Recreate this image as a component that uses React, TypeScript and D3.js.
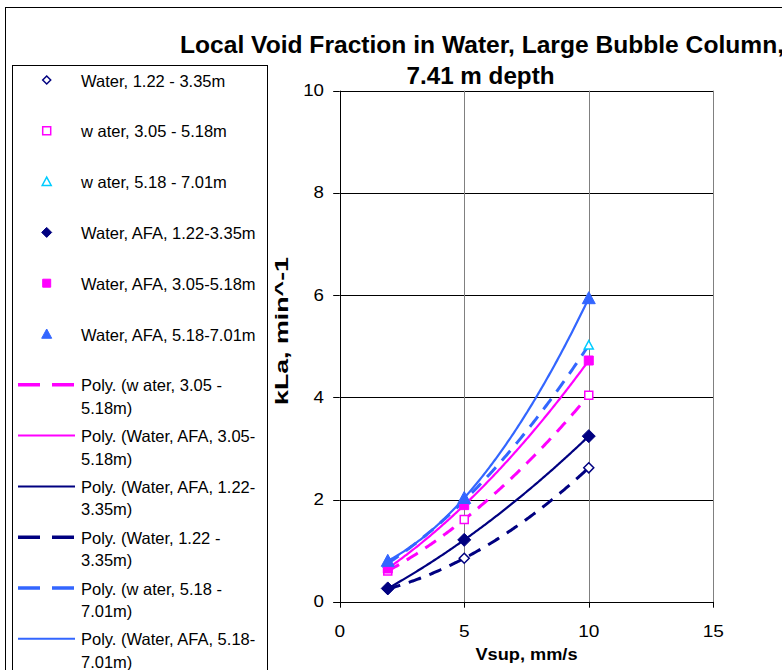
import React from "react";
import * as d3 from "d3";

const vsup = [1.93, 5, 10];
const water1 = [0.25, 0.85, 2.62];
const water2 = [0.6, 1.61, 4.04];
const water3 = [0.75, 1.98, 5.02];
const afa1 = [0.26, 1.21, 3.24];
const afa2 = [0.65, 1.89, 4.72];
const afa3 = [0.8, 2.03, 5.94];

const xTicks = [0, 5, 10, 15];
const yTicks = [0, 2, 4, 6, 8, 10];

const pointLabels = [
  "Water, 1.22 - 3.35m",
  "w ater, 3.05 - 5.18m",
  "w ater, 5.18 - 7.01m",
  "Water, AFA, 1.22-3.35m",
  "Water, AFA, 3.05-5.18m",
  "Water, AFA, 5.18-7.01m",
];
const trendLabels = [
  ["Poly. (w ater, 3.05 -", "5.18m)"],
  ["Poly. (Water, AFA, 3.05-", "5.18m)"],
  ["Poly. (Water, AFA, 1.22-", "3.35m)"],
  ["Poly. (Water, 1.22 -", "3.35m)"],
  ["Poly. (w ater, 5.18 -", "7.01m)"],
  ["Poly. (Water, AFA, 5.18-", "7.01m)"],
];

const NAVY = "#000080";
const MAG = "#FF00FF";
const CYAN = "#00CCFF";
const BLUE = "#3366FF";

type Shape = "diamond" | "square" | "triangle";
const series = [
  { values: water1, shape: "diamond" as Shape, filled: false, color: NAVY, size: 10, lsize: 8, trendColor: NAVY, dashed: true },
  { values: water2, shape: "square" as Shape, filled: false, color: MAG, size: 8, lsize: 8, trendColor: MAG, dashed: true },
  { values: water3, shape: "triangle" as Shape, filled: false, color: CYAN, size: 9, lsize: 9, trendColor: BLUE, dashed: true },
  { values: afa1, shape: "diamond" as Shape, filled: true, color: NAVY, size: 13, lsize: 10, trendColor: NAVY, dashed: false },
  { values: afa2, shape: "square" as Shape, filled: true, color: MAG, size: 9, lsize: 8, trendColor: MAG, dashed: false },
  { values: afa3, shape: "triangle" as Shape, filled: true, color: BLUE, size: 13, lsize: 10, trendColor: BLUE, dashed: false },
];
// legend order of trendlines -> series index
const trendOrder = [1, 4, 3, 0, 2, 5];

function markerPath(shape: Shape, s: number): string {
  const p = d3.path();
  const h = s / 2;
  if (shape === "diamond") {
    p.moveTo(0, -h); p.lineTo(h, 0); p.lineTo(0, h); p.lineTo(-h, 0); p.closePath();
  } else if (shape === "square") {
    p.rect(-h, -h, s, s);
  } else {
    p.moveTo(0, -h); p.lineTo(h, h * 0.85); p.lineTo(-h, h * 0.85); p.closePath();
  }
  return p.toString();
}

function quadFit(xs: number[], ys: number[]) {
  return (x: number) => {
    let sum = 0;
    for (let i = 0; i < 3; i++) {
      let term = ys[i];
      for (let j = 0; j < 3; j++) if (j !== i) term *= (x - xs[j]) / (xs[i] - xs[j]);
      sum += term;
    }
    return sum;
  };
}

export default function App() {
  const x = d3.scaleLinear().domain([0, 15]).range([339.7, 713.3]);
  const y = d3.scaleLinear().domain([0, 10]).range([601.7, 90.7]);
  const line = d3.line<[number, number]>().x((d) => x(d[0])).y((d) => y(d[1]));
  const font = "Arial, 'Liberation Sans', sans-serif";

  const trendPath = (vals: number[]) => {
    const f = quadFit(vsup, vals);
    const pts: [number, number][] = d3.range(vsup[0], vsup[2] + 0.001, 0.05).map((v) => [v, f(v)]);
    return line(pts) || "";
  };

  const legStep = 50.8;
  return (
    <svg width={782} height={670} style={{ position: "absolute", left: 0, top: 0, background: "#fff" }} fontFamily={font}>
      <rect x={0} y={0} width={782} height={670} fill="#fff" />
      <rect x={5.5} y={7.5} width={800} height={700} fill="none" stroke="#000" strokeWidth={1} />
      {/* title */}
      <text x={180} y={53} fontSize={24} fontWeight="bold" textLength={604} lengthAdjust="spacingAndGlyphs">
        Local Void Fraction in Water, Large Bubble Column,
      </text>
      <text x={480.5} y={84} fontSize={24} fontWeight="bold" textAnchor="middle" textLength={148} lengthAdjust="spacingAndGlyphs">
        7.41 m depth
      </text>
      {/* gridlines */}
      {yTicks.filter((t) => t > 0).map((t) => (
        <line key={"gy" + t} x1={x(0)} x2={x(15)} y1={Math.round(y(t)) + 0.5} y2={Math.round(y(t)) + 0.5} stroke="#000" strokeWidth={1} />
      ))}
      {xTicks.filter((t) => t > 0).map((t) => (
        <line key={"gx" + t} x1={Math.round(x(t)) + 0.5} x2={Math.round(x(t)) + 0.5} y1={y(10)} y2={y(0)} stroke="#808080" strokeWidth={1} />
      ))}
      {/* axes */}
      <line x1={Math.round(x(0)) + 0.5} x2={Math.round(x(0)) + 0.5} y1={y(10)} y2={y(0) + 1} stroke="#000" />
      <line x1={x(0) - 6} x2={x(15)} y1={Math.round(y(0)) + 0.5} y2={Math.round(y(0)) + 0.5} stroke="#000" />
      {yTicks.map((t) => (
        <g key={"yt" + t}>
          <line x1={x(0) - 6.5} x2={x(0)} y1={Math.round(y(t)) + 0.5} y2={Math.round(y(t)) + 0.5} stroke="#000" />
          <text x={324} y={y(t) + 5.5} fontSize={16} textAnchor="end" textLength={String(t).length * 10.4} lengthAdjust="spacingAndGlyphs">
            {t}
          </text>
        </g>
      ))}
      {xTicks.map((t) => (
        <g key={"xt" + t}>
          <line x1={Math.round(x(t)) + 0.5} x2={Math.round(x(t)) + 0.5} y1={y(0)} y2={y(0) + 6} stroke="#000" />
          <text x={x(t)} y={636.5} fontSize={16} textAnchor="middle" textLength={String(t).length * 10.6} lengthAdjust="spacingAndGlyphs">
            {t}
          </text>
        </g>
      ))}
      <text x={x(7.5)} y={660} fontSize={16} fontWeight="bold" textAnchor="middle" textLength={102} lengthAdjust="spacingAndGlyphs">
        Vsup, mm/s
      </text>
      <text transform="translate(288,331) rotate(-90)" fontSize={18} fontWeight="bold" textAnchor="middle" textLength={148} lengthAdjust="spacingAndGlyphs">
        kLa, min^-1
      </text>
      {/* trendlines */}
      {series.map((s, i) => (
        <path key={"tr" + i} d={trendPath(s.values)} fill="none" stroke={s.trendColor}
          strokeWidth={s.dashed ? 3 : 2.2} strokeDasharray={s.dashed ? "13 9" : undefined} />
      ))}
      {/* markers */}
      {series.map((s, i) =>
        s.values.map((v, k) => (
          <path key={"m" + i + "-" + k} d={markerPath(s.shape, s.size)} transform={`translate(${x(vsup[k])},${y(v)})`}
            fill={s.filled ? s.color : "#fff"} stroke={s.color} strokeWidth={s.filled ? 1 : 1.5} />
        ))
      )}
      {/* legend */}
      <rect x={12.5} y={65.5} width={255} height={700} fill="#fff" stroke="#000" strokeWidth={1} />
      {series.map((s, i) => {
        const cy = 80 + i * legStep;
        return (
          <g key={"lg" + i}>
            <path d={markerPath(s.shape, s.lsize)} transform={`translate(46.7,${cy})`}
              fill={s.filled ? s.color : "#fff"} stroke={s.color} strokeWidth={s.filled ? 1 : 1.5} />
            <text x={81} y={cy + 6.5} fontSize={16.5}>{pointLabels[i]}</text>
          </g>
        );
      })}
      {trendOrder.map((si, j) => {
        const s = series[si];
        const cy = 80 + (6 + j) * legStep;
        return (
          <g key={"lt" + j}>
            <line x1={18} x2={75} y1={cy} y2={cy} stroke={s.trendColor} strokeWidth={s.dashed ? 3.5 : 2}
              strokeDasharray={s.dashed ? "22 12" : undefined} />
            <text x={81} y={cy + 6.5} fontSize={16.5}>{trendLabels[j][0]}</text>
            <text x={81} y={cy + 29} fontSize={16.5}>{trendLabels[j][1]}</text>
          </g>
        );
      })}
    </svg>
  );
}
